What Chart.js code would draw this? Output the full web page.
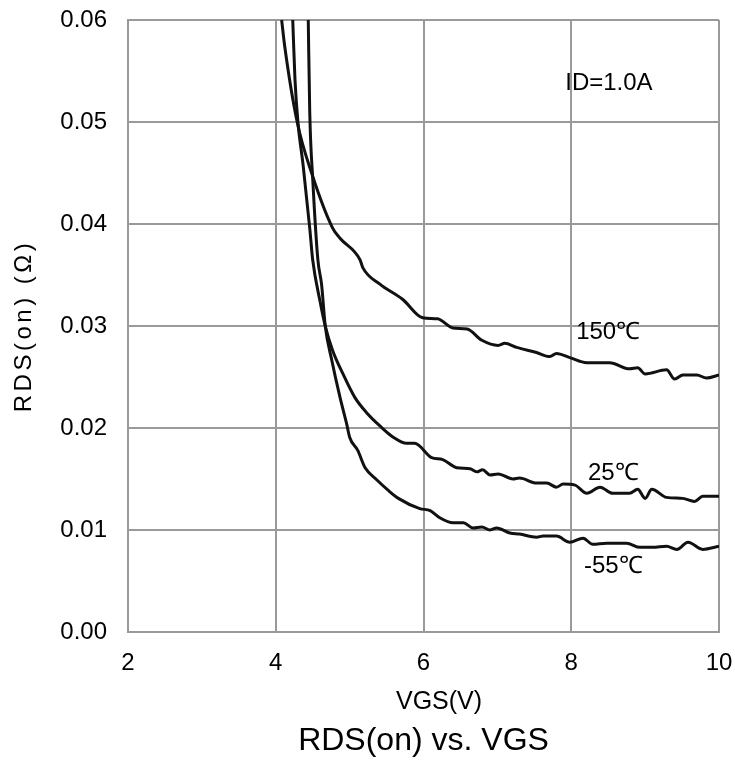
<!DOCTYPE html>
<html>
<head>
<meta charset="utf-8">
<script src="https://cdn.jsdelivr.net/npm/chart.js@4.4.0/dist/chart.umd.min.js"></script>
<style>
  html, body { margin: 0; padding: 0; background: #fff; }
  #wrap { width: 735px; height: 763px; }
</style>
</head>
<body>
<div id="wrap"><canvas id="out" width="735" height="763"></canvas></div>
<script>
// VGS (V) and RDS(on) (ohm)
const vgs150 = [4.08, 4.12, 4.29, 4.49, 4.77, 4.87, 5.14, 5.18, 5.41, 5.72, 5.99, 6.19, 6.40, 6.59, 6.79, 7.01, 7.10, 7.26, 7.53, 7.71, 7.80, 7.98, 8.21, 8.52, 8.79, 8.90, 9.00, 9.29, 9.40, 9.51, 9.70, 9.83, 10.0];
const rds150 = [0.0600, 0.0575, 0.0500, 0.0449, 0.0396, 0.0386, 0.0365, 0.0357, 0.0341, 0.0326, 0.0308, 0.0307, 0.0298, 0.0297, 0.0286, 0.0281, 0.0283, 0.0279, 0.0274, 0.0270, 0.0273, 0.0269, 0.0264, 0.0264, 0.0258, 0.0259, 0.0253, 0.0257, 0.0248, 0.0252, 0.0252, 0.0249, 0.0252];

const vgs25 = [4.23, 4.26, 4.30, 4.37, 4.46, 4.50, 4.60, 4.67, 4.77, 4.91, 5.07, 5.23, 5.41, 5.59, 5.77, 5.88, 6.11, 6.26, 6.45, 6.63, 6.72, 6.80, 6.90, 7.01, 7.21, 7.30, 7.53, 7.67, 7.80, 7.89, 8.05, 8.21, 8.39, 8.56, 8.79, 8.90, 9.00, 9.09, 9.29, 9.51, 9.67, 9.78, 10.0];
const rds25 = [0.0600, 0.0542, 0.0500, 0.0458, 0.0396, 0.0365, 0.0324, 0.0300, 0.0276, 0.0253, 0.0230, 0.0215, 0.0202, 0.0191, 0.0185, 0.0185, 0.0171, 0.0169, 0.0161, 0.0160, 0.0157, 0.0159, 0.0154, 0.0155, 0.0150, 0.0151, 0.0146, 0.0146, 0.0142, 0.0145, 0.0144, 0.0136, 0.0142, 0.0136, 0.0136, 0.0140, 0.0131, 0.0140, 0.0132, 0.0131, 0.0128, 0.0133, 0.0133];

const vgsM55 = [4.44, 4.46, 4.50, 4.57, 4.62, 4.67, 4.76, 4.87, 4.96, 5.00, 5.11, 5.21, 5.37, 5.52, 5.66, 5.95, 6.09, 6.22, 6.40, 6.54, 6.67, 6.79, 6.90, 6.99, 7.17, 7.30, 7.53, 7.62, 7.80, 7.98, 8.16, 8.29, 8.48, 8.75, 8.93, 9.10, 9.29, 9.43, 9.58, 9.78, 10.0];
const rdsM55 = [0.0600, 0.0510, 0.0445, 0.0365, 0.0341, 0.0300, 0.0266, 0.0230, 0.0204, 0.0191, 0.0178, 0.0161, 0.0149, 0.0139, 0.0131, 0.0121, 0.0119, 0.0112, 0.0107, 0.0107, 0.0102, 0.0103, 0.0100, 0.0102, 0.0097, 0.0096, 0.0093, 0.0094, 0.0094, 0.0088, 0.0092, 0.0086, 0.0087, 0.0087, 0.0083, 0.0083, 0.0084, 0.0081, 0.0088, 0.0081, 0.0084];

const xTicks = [2, 4, 6, 8, 10];
const yTicks = [0, 0.01, 0.02, 0.03, 0.04, 0.05, 0.06];

// text labels placed in data units
const notes = [
  { text: "ID=1.0A", x: 8.51, y: 0.0538 },
  { text: "150\u2103", x: 8.50, y: 0.0294 },
  { text: "25\u2103", x: 8.57, y: 0.0156 },
  { text: "-55\u2103", x: 8.57, y: 0.0064 }
];
const xTitle = "VGS(V)";
const yTitle = "RDS(on) (\u03A9)";

function toPoints(xs, ys) {
  return xs.map((x, i) => ({ x: x, y: ys[i] }));
}

const FONT = "'Liberation Sans', Arial, sans-serif";
const gridColor = "#9a9a9a";

const notesPlugin = {
  id: "notes",
  afterDatasetsDraw(chart) {
    const ctx = chart.ctx;
    const xs = chart.scales.x, ys = chart.scales.y;
    ctx.save();
    ctx.fillStyle = "#000";
    ctx.font = "24px " + FONT;
    ctx.textAlign = "center";
    ctx.textBaseline = "middle";
    notes.forEach(n => {
      ctx.fillText(n.text, xs.getPixelForValue(n.x), ys.getPixelForValue(n.y));
    });
    ctx.restore();
  },
  afterDraw(chart) {
    // axis titles: the x one sits a little right of centre, the y one is widely spaced
    const ctx = chart.ctx;
    const area = chart.chartArea;
    ctx.save();
    ctx.fillStyle = "#000";
    ctx.textAlign = "center";
    ctx.textBaseline = "middle";
    ctx.font = "25px " + FONT;
    ctx.fillText(xTitle, chart.scales.x.getPixelForValue(6.21), area.bottom + 70);
    ctx.font = "24px " + FONT;
    ctx.letterSpacing = "3.5px";
    ctx.translate(24, (area.top + area.bottom) / 2);
    ctx.rotate(-Math.PI / 2);
    ctx.fillText(yTitle, 0, 0);
    ctx.restore();
  }
};

const lineStyle = {
  borderColor: "#111",
  borderWidth: 3,
  pointRadius: 0,
  cubicInterpolationMode: "monotone",
  fill: false
};

const canvasCtx = document.getElementById("out").getContext("2d");
new Chart(canvasCtx, {
  type: "line",
  data: {
    datasets: [
      Object.assign({ label: "150\u2103", data: toPoints(vgs150, rds150) }, lineStyle),
      Object.assign({ label: "25\u2103", data: toPoints(vgs25, rds25) }, lineStyle),
      Object.assign({ label: "-55\u2103", data: toPoints(vgsM55, rdsM55) }, lineStyle)
    ]
  },
  options: {
    responsive: false,
    animation: false,
    layout: { padding: { left: 0, right: 16, top: 20, bottom: 2.6 } },
    plugins: {
      legend: { display: false },
      tooltip: { enabled: false },
      title: {
        display: true,
        position: "bottom",
        fullSize: false,
        text: "RDS(on) vs. VGS",
        color: "#000",
        font: { family: FONT, size: 32, weight: "normal" },
        padding: { top: 5, bottom: 0 }
      }
    },
    scales: {
      x: {
        type: "linear",
        min: 2,
        max: 10,
        afterBuildTicks: axis => { axis.ticks = xTicks.map(v => ({ value: v })); },
        afterFit: axis => {
          axis.height = 85;
          axis.paddingLeft = 0;
          axis.paddingRight = 0;
        },
        ticks: { color: "#000", font: { family: FONT, size: 24 }, padding: 17, maxRotation: 0 },
        grid: { color: gridColor, lineWidth: 2, drawTicks: false },
        border: { color: gridColor, width: 2 }
      },
      y: {
        type: "linear",
        min: 0,
        max: 0.06,
        afterBuildTicks: axis => { axis.ticks = yTicks.map(v => ({ value: v })); },
        afterFit: axis => {
          axis.width = 128;
          axis.paddingTop = 0;
          axis.paddingBottom = 0;
        },
        ticks: {
          color: "#000",
          font: { family: FONT, size: 24 },
          padding: 21,
          callback: v => v.toFixed(2)
        },
        grid: { color: gridColor, lineWidth: 2, drawTicks: false },
        border: { color: gridColor, width: 2 }
      }
    }
  },
  plugins: [notesPlugin]
});
</script>
</body>
</html>
